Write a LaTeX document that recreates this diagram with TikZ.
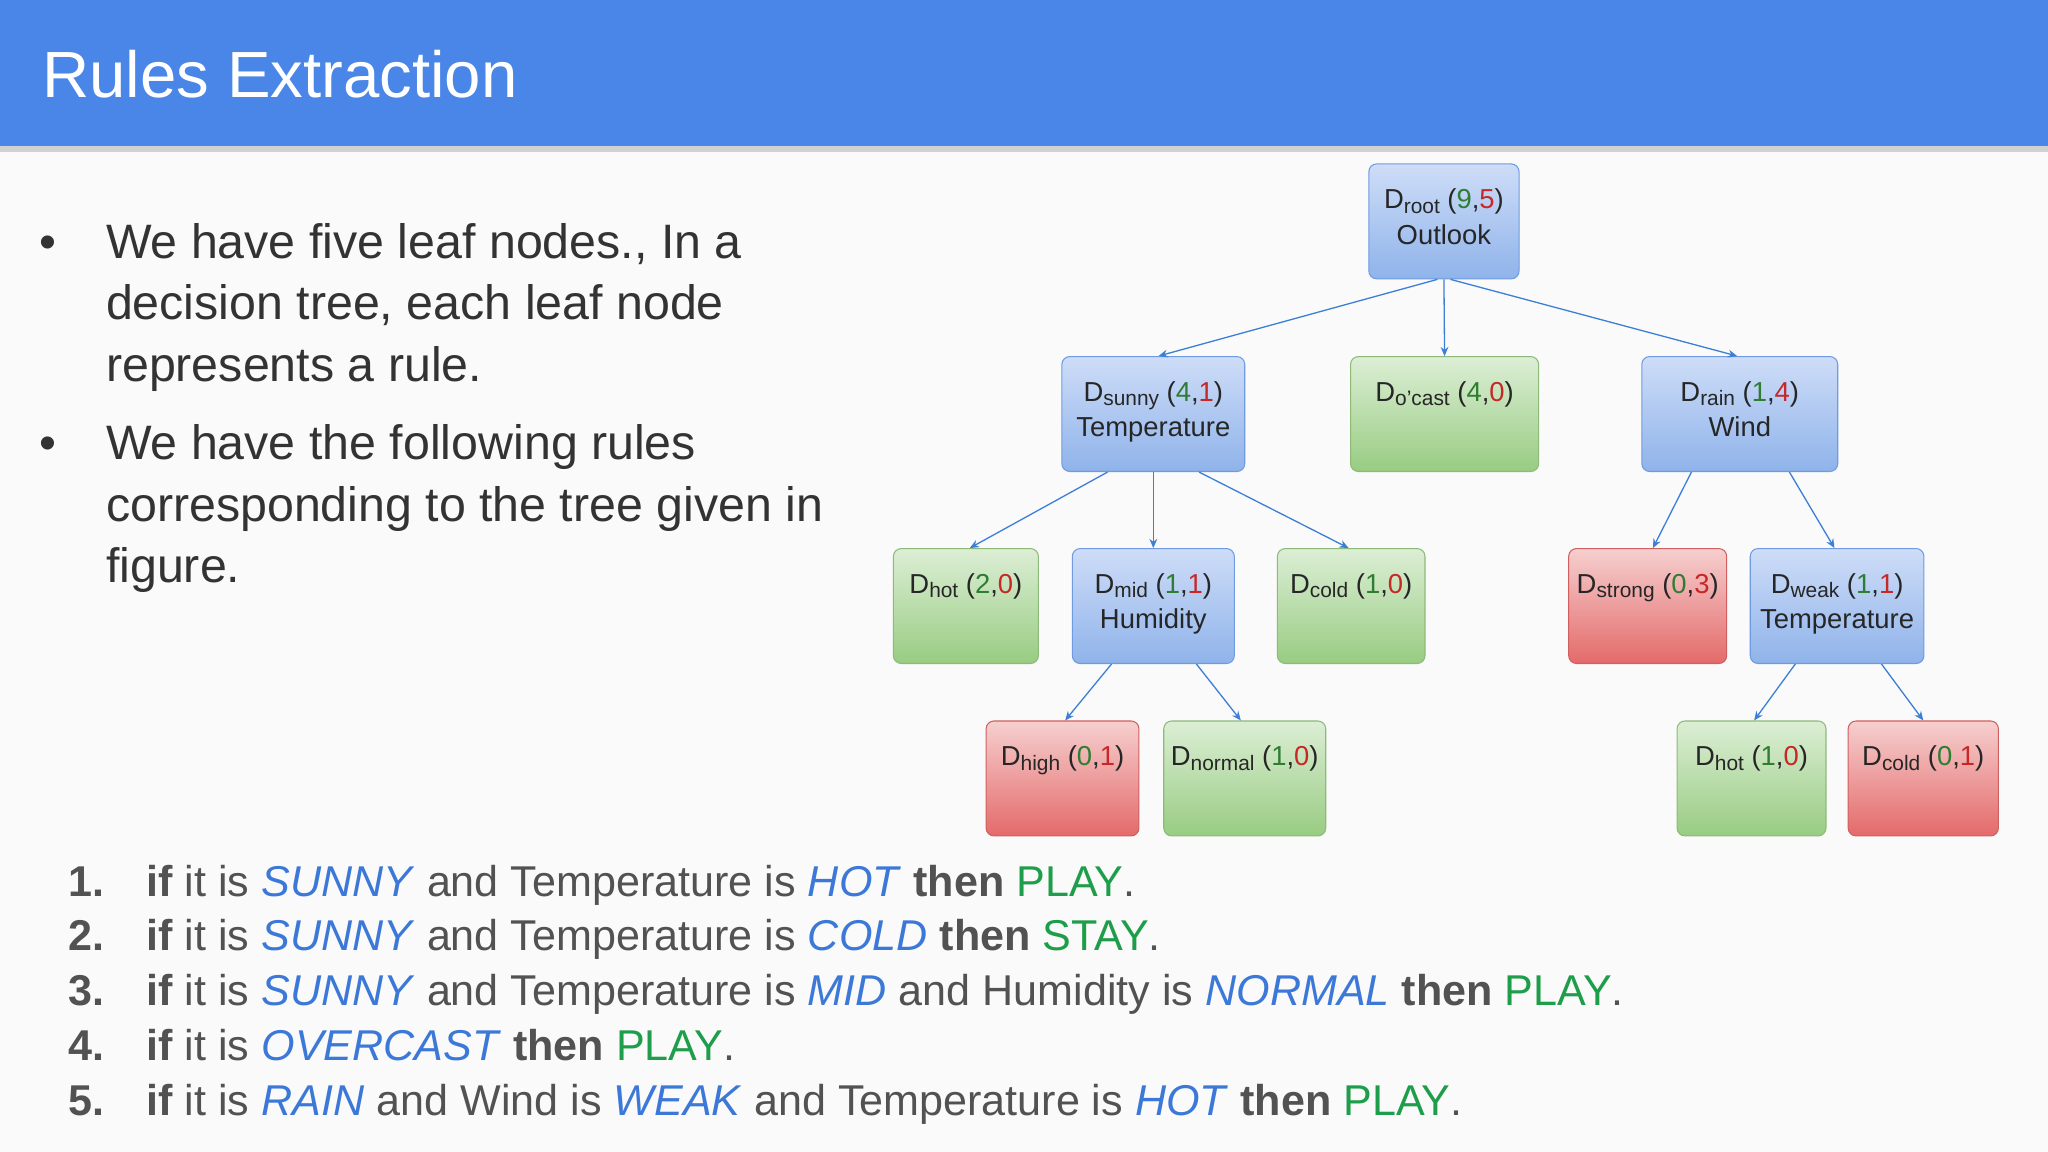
\documentclass[tikz,border=0pt]{standalone}
\usepackage{fontspec}
\setmainfont{Liberation Sans}
\usetikzlibrary{arrows.meta,calc}
\definecolor{hdr}{HTML}{4A86E8}
\definecolor{bgc}{HTML}{FAFAFA}
\definecolor{txt}{HTML}{333333}
\definecolor{ib}{HTML}{3C78D8}
\definecolor{gp}{HTML}{1E9E4A}
\definecolor{ng}{HTML}{2E7D32}
\definecolor{nr}{HTML}{C62828}
\definecolor{arr}{HTML}{3D7FD6}
\newcommand\Dsb[1]{D\raisebox{-0.3ex}{\fontsize{16}{16}\selectfont #1}}
\newcommand\gr[1]{\textcolor{ng}{#1}}
\newcommand\rd[1]{\textcolor{nr}{#1}}
\newcommand\kw[1]{\textbf{#1}}
\newcommand\itb[1]{\textcolor{ib}{\textit{#1}}}
\newcommand\pl[1]{\textcolor{gp}{#1}}
\definecolor{bB}{HTML}{6F9BE0}\definecolor{bT}{HTML}{CEDDF8}\definecolor{bM}{HTML}{8FB3EA}
\definecolor{gB}{HTML}{8DBA78}\definecolor{gT}{HTML}{DCEED5}\definecolor{gM}{HTML}{98CC82}
\definecolor{rB}{HTML}{D06060}\definecolor{rT}{HTML}{F6CFCF}\definecolor{rM}{HTML}{E46A6A}
\tikzset{
 box/.style={rounded corners=6pt,minimum height=88pt,draw,line width=0.8pt,inner sep=0pt},
 bl/.style={box,draw=bB,top color=bT,bottom color=bM},
 gn/.style={box,draw=gB,top color=gT,bottom color=gM},
 rdb/.style={box,draw=rB,top color=rT,bottom color=rM},
 lab/.style={font=\fontsize{21}{27}\selectfont,text=black!85,align=center},
 edge/.style={draw=arr,line width=1pt,-{Stealth[length=7pt,width=6pt]}},
 body/.style={anchor=base west,text=txt,font=\fontsize{37}{47}\selectfont,inner sep=0pt},
 rule/.style={anchor=base west,text=txt!85,font=\fontsize{33}{42}\selectfont,inner sep=0pt},
}
\newcommand\tnode[5]{\node[#1,minimum width=#5pt] (#2) at (#3,#4) {};}
\begin{document}
\begin{tikzpicture}[x=1pt,y=-1pt]
\useasboundingbox (0,0) rectangle (1568,882);
\fill[bgc] (0,0) rectangle (1568,882);
\fill[black!18] (0,112) rectangle (1568,116);
\fill[hdr] (0,0) rectangle (1568,112);
\node[anchor=base west,text=white,font=\fontsize{50}{60}\selectfont,inner sep=0pt] (title) at (32,75) {Rules Extraction};
% bullets
\node[body] (b1) at (30,198) {•};
\node[body] (t1) at (81,198) {We have five leaf nodes., In a};
\node[body] (t2) at (81,245) {decision tree, each leaf node};
\node[body] (t3) at (81,292) {represents a rule.};
\node[body] (b2) at (30,352) {•};
\node[body] (t4) at (81,352) {We have the following rules};
\node[body] (t5) at (81,399) {corresponding to the tree given in};
\node[body] (t6) at (81,446) {figure.};
% tree
\tnode{bl}{root}{1105.5}{169.5}{115}
\tnode{bl}{sunny}{883}{317}{140}
\tnode{gn}{ocast}{1106}{317}{144}
\tnode{bl}{rain}{1332}{317}{150}
\tnode{gn}{hot}{739.5}{464}{111}
\tnode{bl}{mid}{883}{464}{124}
\tnode{gn}{cold}{1034.5}{464}{113}
\tnode{rdb}{strong}{1261.5}{464}{121}
\tnode{bl}{weak}{1406.5}{464}{133}
\tnode{rdb}{high}{813.5}{596}{117}
\tnode{gn}{normal}{953}{596}{124}
\tnode{gn}{hot2}{1341}{596}{114}
\tnode{rdb}{cold2}{1472.5}{596}{115}
\foreach \n/\t in {root/{\Dsb{root} (\gr{9},\rd{5})\\Outlook},
 sunny/{\Dsb{sunny} (\gr{4},\rd{1})\\Temperature},
 ocast/{\Dsb{o'cast} (\gr{4},\rd{0})},
 rain/{\Dsb{rain} (\gr{1},\rd{4})\\Wind},
 hot/{\Dsb{hot} (\gr{2},\rd{0})},
 mid/{\Dsb{mid} (\gr{1},\rd{1})\\Humidity},
 cold/{\Dsb{cold} (\gr{1},\rd{0})},
 strong/{\Dsb{strong} (\gr{0},\rd{3})},
 weak/{\Dsb{weak} (\gr{1},\rd{1})\\Temperature},
 high/{\Dsb{high} (\gr{0},\rd{1})},
 normal/{\Dsb{normal} (\gr{1},\rd{0})},
 hot2/{\Dsb{hot} (\gr{1},\rd{0})},
 cold2/{\Dsb{cold} (\gr{0},\rd{1})}}
 \node[lab,anchor=north] (\n-t) at ([yshift=-16pt]\n.north) {\t};
\path[edge] ([xshift=-5pt]root.south) -- ([xshift=4pt]sunny.north);
\path[edge] (root.south) -- (ocast.north);
\path[edge] ([xshift=5pt]root.south) -- ([xshift=-2pt]rain.north);
\path[edge] ([xshift=-35pt]sunny.south) -- ([xshift=3pt]hot.north);
\path[edge] (sunny.south) -- (mid.north);
\path[edge] ([xshift=35pt]sunny.south) -- ([xshift=-2pt]cold.north);
\path[edge] ([xshift=-32pt]mid.south) -- ([xshift=2pt]high.north);
\path[edge] ([xshift=33pt]mid.south) -- ([xshift=-3pt]normal.north);
\path[edge] ([xshift=-37pt]rain.south) -- ([xshift=4pt]strong.north);
\path[edge] ([xshift=38pt]rain.south) -- ([xshift=-2pt]weak.north);
\path[edge] ([xshift=-32pt]weak.south) -- ([xshift=2pt]hot2.north);
\path[edge] ([xshift=34pt]weak.south) -- ([xshift=0pt]cold2.north);
% rules
\foreach \i/\y in {1/686,2/728,3/770,4/812,5/854}
 \node[rule,font=\fontsize{33}{42}\selectfont\bfseries] (n\i) at (52,\y) {\i.};
\node[rule] (r1) at (112,686) {\kw{if} it is \itb{SUNNY} and Temperature is \itb{HOT} \kw{then} \pl{PLAY}.};
\node[rule] (r2) at (112,728) {\kw{if} it is \itb{SUNNY} and Temperature is \itb{COLD} \kw{then} \pl{STAY}.};
\node[rule] (r3) at (112,770) {\kw{if} it is \itb{SUNNY} and Temperature is \itb{MID} and Humidity is \itb{NORMAL} \kw{then} \pl{PLAY}.};
\node[rule] (r4) at (112,812) {\kw{if} it is \itb{OVERCAST} \kw{then} \pl{PLAY}.};
\node[rule] (r5) at (112,854) {\kw{if} it is \itb{RAIN} and Wind is \itb{WEAK} and Temperature is \itb{HOT} \kw{then} \pl{PLAY}.};
\end{tikzpicture}
\end{document}
